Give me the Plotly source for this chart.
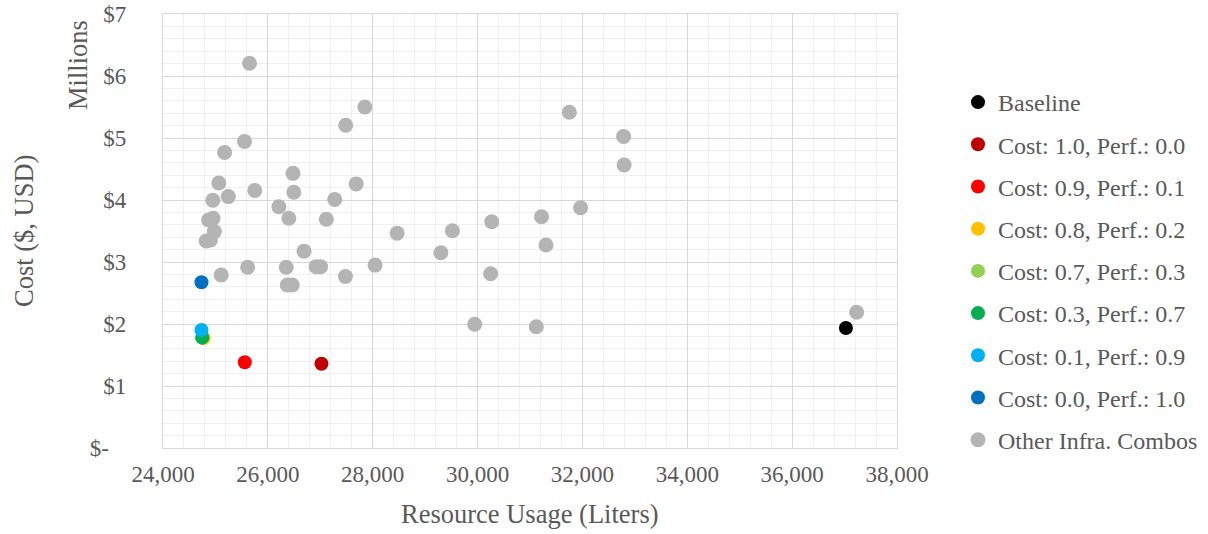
import plotly.graph_objects as go

# ---------------- data ----------------
series_names = [
    "Baseline",
    "Cost: 1.0, Perf.: 0.0",
    "Cost: 0.9, Perf.: 0.1",
    "Cost: 0.8, Perf.: 0.2",
    "Cost: 0.7, Perf.: 0.3",
    "Cost: 0.3, Perf.: 0.7",
    "Cost: 0.1, Perf.: 0.9",
    "Cost: 0.0, Perf.: 1.0",
]
series_colors = ["#000000", "#C00000", "#FF0000", "#FFC000",
                 "#92D050", "#00B050", "#00B0F0", "#0070C0"]
series_x = [37026, 27022, 25560, 24775, 24748, 24748, 24734, 24734]   # liters
series_y = [1.935, 1.360, 1.382, 1.772, 1.780, 1.780, 1.903, 2.673]   # $ millions

other_name = "Other Infra. Combos"
other_color = "#B4B4B4"
other_x = [25650, 27850, 27485, 25555, 25175, 26480, 25065, 27685, 25750, 26495,
           25245, 24950, 27275, 26210, 26400, 27115, 24870, 24955, 24980, 24825,
           24905, 28465, 26690, 25615, 25110, 26350, 26920, 27005, 27480, 28045,
           26370, 26465, 31750, 32785, 32795, 31965, 31220, 30270, 29520, 29300,
           31305, 30250, 29945, 31120, 37230]
other_y = [6.205, 5.500, 5.205, 4.945, 4.765, 4.430, 4.275, 4.260, 4.155, 4.125,
           4.055, 3.995, 4.010, 3.890, 3.705, 3.690, 3.677, 3.705, 3.490, 3.340,
           3.355, 3.465, 3.175, 2.915, 2.790, 2.915, 2.925, 2.925, 2.765, 2.950,
           2.630, 2.630, 5.415, 5.025, 4.565, 3.875, 3.730, 3.650, 3.505, 3.150,
           3.275, 2.810, 1.995, 1.955, 2.190]

x_ticks = [24000, 26000, 28000, 30000, 32000, 34000, 36000, 38000]
x_ticktext = ["24,000", "26,000", "28,000", "30,000", "32,000", "34,000", "36,000", "38,000"]
y_ticks = [0, 1, 2, 3, 4, 5, 6, 7]
y_ticktext = ["$-\u00a0\u00a0\u00a0", "$1", "$2", "$3", "$4", "$5", "$6", "$7"]

# ---------------- styling ----------------
FONT = "Liberation Serif"
TXT = "#595959"
MAJOR = "#D9D9D9"
MINOR = "#F0F0F0"

fig = go.Figure()
for i, (n, c, xv, yv) in enumerate(zip(series_names, series_colors, series_x, series_y)):
    fig.add_trace(go.Scatter(
        x=[xv], y=[yv], mode="markers", name=n, legendgroup=f"g{i}",
        marker=dict(color=c, size=14, line=dict(width=0)),
    ))
fig.add_trace(go.Scatter(
    x=other_x, y=other_y, mode="markers", name=other_name, legendgroup="gother",
    marker=dict(color=other_color, size=15, line=dict(width=0)),
))

fig.update_layout(
    width=1208, height=534,
    margin=dict(l=163, r=311, t=14, b=86, autoexpand=False),
    paper_bgcolor="white", plot_bgcolor="white",
    font=dict(family=FONT, color=TXT, size=23.5),
    showlegend=True,
    legend=dict(
        x=1.0831, y=0.8479, xanchor="left", yanchor="top",
        font=dict(family=FONT, color=TXT, size=24),
        bgcolor="rgba(0,0,0,0)", tracegroupgap=8, itemsizing="trace",
    ),
    xaxis=dict(
        range=[24000, 38000], tickvals=x_ticks, ticktext=x_ticktext,
        showgrid=True, gridcolor=MAJOR, gridwidth=1.3,
        minor=dict(dtick=400, tick0=24000, showgrid=True, gridcolor=MINOR, gridwidth=1.3),
        showline=True, linecolor=MAJOR, linewidth=1.3, mirror=True,
        zeroline=False, ticks="", ticklabelstandoff=5, automargin=False,
        tickfont=dict(family=FONT, color=TXT, size=23),
    ),
    yaxis=dict(
        range=[0, 7], tickvals=y_ticks, ticktext=y_ticktext,
        showgrid=True, gridcolor=MAJOR, gridwidth=1.3,
        minor=dict(dtick=0.2, tick0=0, showgrid=True, gridcolor=MINOR, gridwidth=1.3),
        showline=True, linecolor=MAJOR, linewidth=1.3, mirror=True,
        zeroline=False, ticks="", ticklabelstandoff=31, automargin=False,
        tickfont=dict(family=FONT, color=TXT, size=23),
    ),
    annotations=[
        dict(text="Resource Usage (Liters)", xref="paper", yref="paper",
             x=0.5, y=-0.152, xanchor="center", yanchor="middle", showarrow=False,
             font=dict(family=FONT, color=TXT, size=26.5)),
        dict(text="Cost ($, USD)", xref="paper", yref="paper",
             x=-0.1894, y=0.5, xanchor="center", yanchor="middle", showarrow=False,
             textangle=-90, font=dict(family=FONT, color=TXT, size=26.5)),
        dict(text="Millions", xref="paper", yref="paper",
             x=-0.1158, y=0.8825, xanchor="center", yanchor="middle", showarrow=False,
             textangle=-90, font=dict(family=FONT, color=TXT, size=26.5)),
    ],
)

fig.write_html("out.html", config={"displayModeBar": False},
               post_script="document.body.style.margin='0';")
